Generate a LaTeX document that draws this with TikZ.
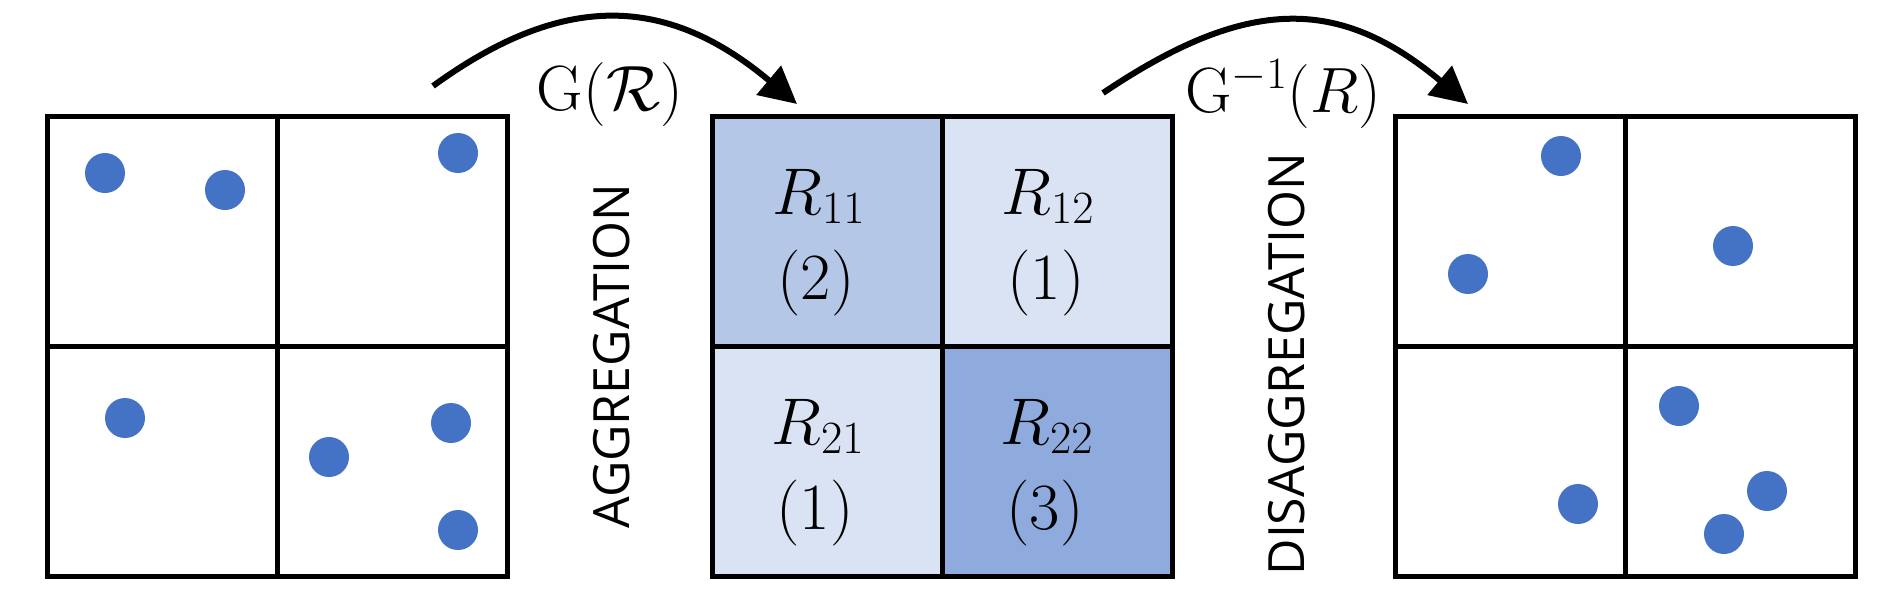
\RequirePackage{fix-cm}
\documentclass[tikz,border=0pt]{standalone}
\usepackage{fontspec}
\newfontfamily\opensans{Open Sans}
\usetikzlibrary{arrows.meta}
\definecolor{dotblue}{HTML}{4472C4}
\definecolor{cellmid}{HTML}{B4C7E7}
\definecolor{celllight}{HTML}{DAE3F3}
\definecolor{celldark}{HTML}{8FAADC}
\begin{document}
\begin{tikzpicture}[x=1pt,y=-1pt,
  cellbox/.style={draw=black,line width=5pt,minimum size=230pt,inner sep=0pt,outer sep=0pt},
  dot/.style={circle,fill=dotblue,minimum size=40pt,inner sep=0pt},
  mathlbl/.style={inner sep=0pt,font=\fontsize{64}{70}\selectfont},
  celltxt/.style={inner sep=0pt,anchor=base,font=\fontsize{66}{70}\selectfont},
  vlabel/.style={inner sep=0pt,rotate=90,font=\opensans\fontsize{50}{56}\selectfont},
  bigarrow/.style={line width=6pt,-{Triangle[length=37pt,width=37pt]}}
]
\useasboundingbox (0,0) rectangle (1898,614);
\fill[white] (0,0) rectangle (1898,614);

% left grid
\node[cellbox] (L11) at (162,231) {};
\node[cellbox] (L12) at (392,231) {};
\node[cellbox] (L21) at (162,461) {};
\node[cellbox] (L22) at (392,461) {};

% middle grid
\node[cellbox,fill=cellmid]   (M11) at (827,231) {};
\node[cellbox,fill=celllight] (M12) at (1057,231) {};
\node[cellbox,fill=celllight] (M21) at (827,461) {};
\node[cellbox,fill=celldark]  (M22) at (1057,461) {};

% right grid
\node[cellbox] (Q11) at (1510,231) {};
\node[cellbox] (Q12) at (1740,231) {};
\node[cellbox] (Q21) at (1510,461) {};
\node[cellbox] (Q22) at (1740,461) {};

% cell texts
\node[celltxt] (t11a) at (819,214) {$R_{11}$};
\node[celltxt] (t11b) at (816,299) {$(2)$};
\node[celltxt] (t12a) at (1048,214) {$R_{12}$};
\node[celltxt] (t12b) at (1046,299) {$(1)$};
\node[celltxt] (t21a) at (818,444) {$R_{21}$};
\node[celltxt] (t21b) at (815,529) {$(1)$};
\node[celltxt] (t22a) at (1047,444) {$R_{22}$};
\node[celltxt] (t22b) at (1045,529) {$(3)$};

% left dots
\node[dot] (d1) at (105,173) {};
\node[dot] (d2) at (225,190) {};
\node[dot] (d3) at (458,153) {};
\node[dot] (d4) at (125,418) {};
\node[dot] (d5) at (329,457) {};
\node[dot] (d6) at (451,423) {};
\node[dot] (d7) at (458,530) {};

% right dots
\node[dot] (e1) at (1561,156) {};
\node[dot] (e2) at (1468,274) {};
\node[dot] (e7) at (1733,246) {};
\node[dot] (e4) at (1578,504) {};
\node[dot] (e3) at (1679,406) {};
\node[dot] (e5) at (1767,491) {};
\node[dot] (e6) at (1724,534) {};

% vertical labels
\node[vlabel] (agg) at (612,356) {AGGREGATION};
\node[vlabel] (disagg) at (1287,364) {DISAGGREGATION};

% arrow labels
\node[mathlbl,anchor=base] (glab) at (610,110) {$\mathrm{G}(\mathcal{R})$};
\node[mathlbl,anchor=base] (ginvlab) at (1283,112) {$\mathrm{G}^{-1}(R)$};

% arrows
\coordinate (a1s) at (433,86);
\coordinate (a1e) at (797,104);
\coordinate (a2s) at (1103,93);
\coordinate (a2e) at (1468,104);
\draw[bigarrow] (a1s) .. controls (561,-7) and (665,-7) .. (a1e);
\draw[bigarrow] (a2s) .. controls (1247,-4) and (1339,-4) .. (a2e);
\end{tikzpicture}
\end{document}
